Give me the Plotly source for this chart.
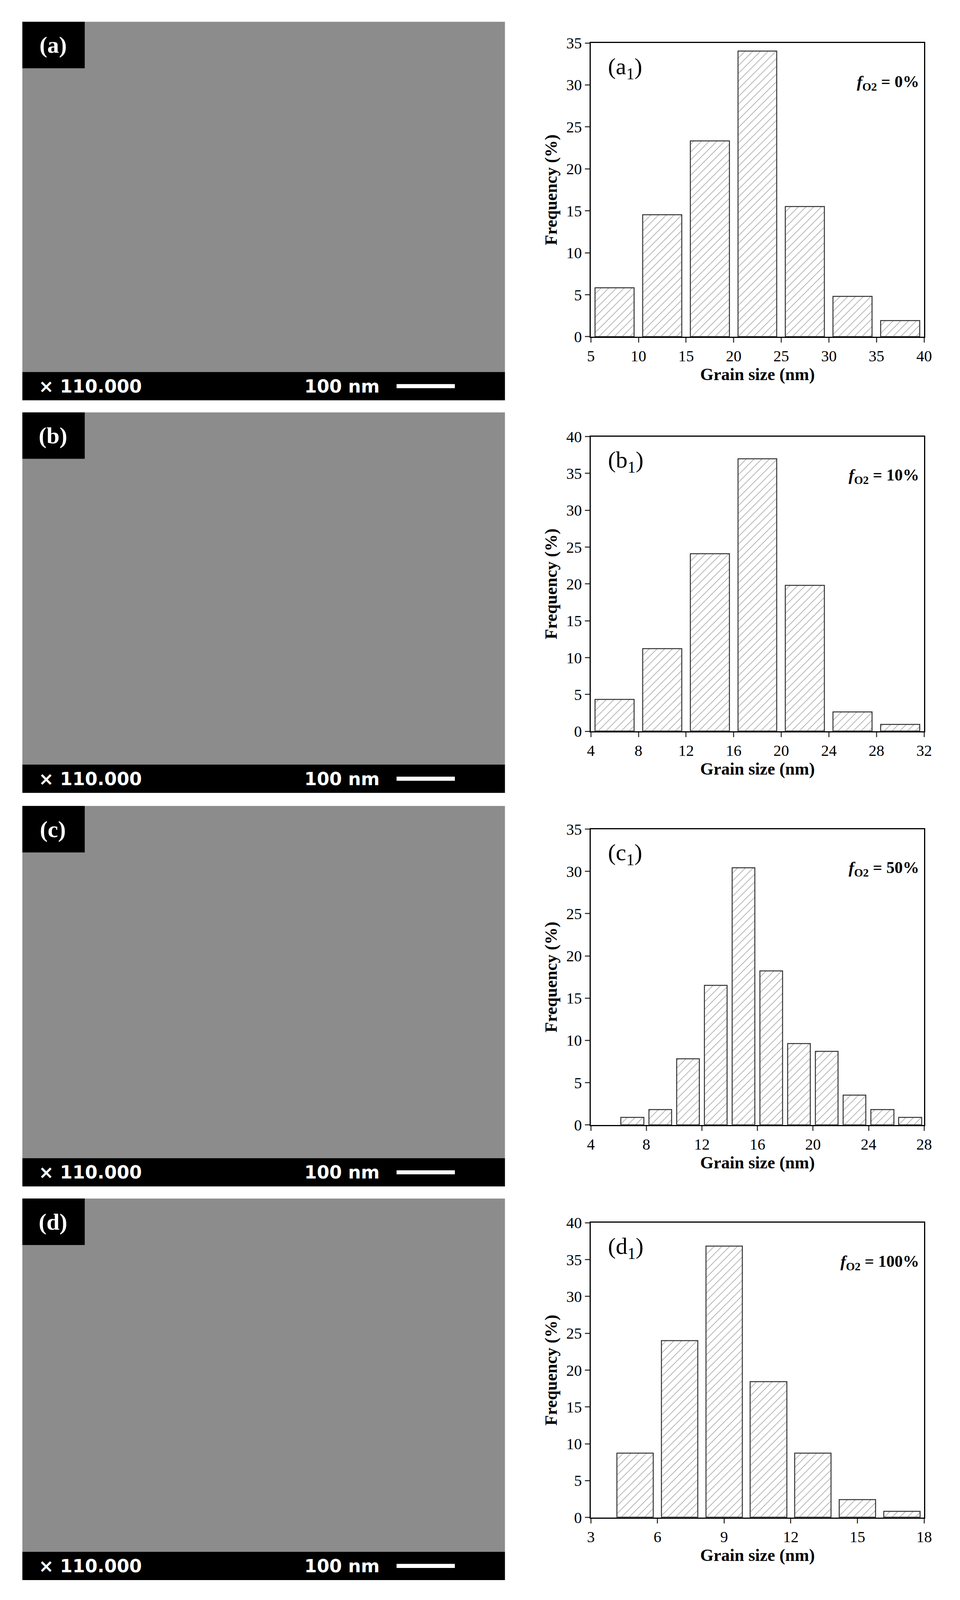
import plotly.graph_objects as go

W, H = 2440, 4140

a_x = [7.5, 12.5, 17.5, 22.5, 27.5, 32.5, 37.5]
a_y = [5.8, 14.5, 23.3, 34.0, 15.5, 4.8, 1.9]
b_x = [6, 10, 14, 18, 22, 26, 30]
b_y = [4.3, 11.2, 24.1, 37.0, 19.8, 2.6, 0.9]
c_x = [7, 9, 11, 13, 15, 17, 19, 21, 23, 25, 27]
c_y = [0.9, 1.8, 7.8, 16.5, 30.4, 18.2, 9.6, 8.7, 3.5, 1.8, 0.9]
d_x = [5, 7, 9, 11, 13, 15, 17]
d_y = [8.7, 24.0, 36.8, 18.4, 8.7, 2.4, 0.8]

panels = [
    dict(x=a_x, y=a_y, w=5, xr=[5, 40], dt=5, yr=[0, 35], ydt=5, lab="a", f="0%",
         sem=(10, 357), plot=(31, 322)),
    dict(x=b_x, y=b_y, w=4, xr=[4, 32], dt=4, yr=[0, 40], ydt=5, lab="b", f="10%",
         sem=(397, 746), plot=(421, 713)),
    dict(x=c_x, y=c_y, w=2, xr=[4, 28], dt=4, yr=[0, 35], ydt=5, lab="c", f="50%",
         sem=(787, 1136), plot=(810, 1103)),
    dict(x=d_x, y=d_y, w=2, xr=[3, 18], dt=3, yr=[0, 40], ydt=5, lab="d", f="100%",
         sem=(1176, 1526), plot=(1200, 1492)),
]

SH = 1585.0
def py(v):
    return 1 - v / SH
def px(v):
    return v / 921.0

fig = go.Figure()
shapes, ann = [], []
font = "Liberation Serif"
for i, p in enumerate(panels):
    n = "" if i == 0 else str(i + 1)
    fig.add_trace(go.Bar(x=p["x"], y=p["y"], width=p["w"] * 0.82,
                         marker=dict(color="white", line=dict(color="#333", width=2.5),
                                     pattern=dict(shape="/", fgcolor="#555", size=14, solidity=0.12)),
                         xaxis="x" + n, yaxis="y" + n, showlegend=False))
    x0, x1 = px(571), px(897)
    y0, y1 = py(p["plot"][1]), py(p["plot"][0])
    ax = dict(domain=[x0, x1], range=p["xr"], dtick=p["dt"], showline=True, mirror=True,
              linecolor="black", linewidth=3, ticks="outside", ticklen=12, tickwidth=3,
              showgrid=False, zeroline=False,
              tickfont=dict(family=font, size=40, color="black"),
              title=dict(text="<b>Grain size (nm)</b>", font=dict(family=font, size=44, color="black"), standoff=2))
    ay = dict(domain=[y0, y1], range=p["yr"], dtick=p["ydt"], showline=True, mirror=True,
              linecolor="black", linewidth=3, ticks="outside", ticklen=12, tickwidth=3,
              showgrid=False, zeroline=False,
              tickfont=dict(family=font, size=40, color="black"),
              title=dict(text="<b>Frequency (%)</b>", font=dict(family=font, size=44, color="black"), standoff=10))
    ax["anchor"] = "y" + n
    ay["anchor"] = "x" + n
    fig.layout["xaxis" + n] = ax
    fig.layout["yaxis" + n] = ay
    ann.append(dict(x=px(587), y=y1 - 0.006, xref="paper", yref="paper", xanchor="left", yanchor="top",
                    text=f"({p['lab']}<sub>1</sub>)", showarrow=False,
                    font=dict(family=font, size=60, color="black")))
    ann.append(dict(x=px(893), y=y1 - 0.018, xref="paper", yref="paper", xanchor="right", yanchor="top",
                    text=f"<b><i>f</i><sub>O2</sub> = {p['f']}</b>", showarrow=False,
                    font=dict(family=font, size=42, color="black")))
    s0, s1 = p["sem"]
    shapes.append(dict(type="rect", xref="paper", yref="paper", x0=px(15), x1=px(487),
                       y0=py(s1), y1=py(s0), fillcolor="#8c8c8c", line=dict(width=0), layer="below"))
    shapes.append(dict(type="rect", xref="paper", yref="paper", x0=px(15), x1=px(487),
                       y0=py(s1 + 28), y1=py(s1), fillcolor="black", line=dict(width=0)))
    shapes.append(dict(type="rect", xref="paper", yref="paper", x0=px(15), x1=px(76),
                       y0=py(s0 + 46), y1=py(s0), fillcolor="black", line=dict(width=0)))
    shapes.append(dict(type="rect", xref="paper", yref="paper", x0=px(381), x1=px(438),
                       y0=py(s1 + 16), y1=py(s1 + 12), fillcolor="white", line=dict(width=0)))
    ann.append(dict(x=px(45), y=py(s0 + 23), xref="paper", yref="paper", xanchor="center", yanchor="middle",
                    text=f"<b>({p['lab']})</b>",
                    showarrow=False, font=dict(family=font, size=60, color="white")))
    ann.append(dict(x=px(30), y=py(s1 + 14), xref="paper", yref="paper", xanchor="left", yanchor="middle",
                    text="<b>× 110.000</b>", showarrow=False,
                    font=dict(family="DejaVu Sans", size=46, color="white")))
    ann.append(dict(x=px(290), y=py(s1 + 14), xref="paper", yref="paper", xanchor="left", yanchor="middle",
                    text="<b>100 nm</b>", showarrow=False,
                    font=dict(family="DejaVu Sans", size=46, color="white")))

fig.update_layout(width=W, height=H, margin=dict(l=0, r=0, t=0, b=0),
                  paper_bgcolor="white", plot_bgcolor="white", shapes=shapes, annotations=ann,
                  bargap=0)
fig.write_html("out.html")
